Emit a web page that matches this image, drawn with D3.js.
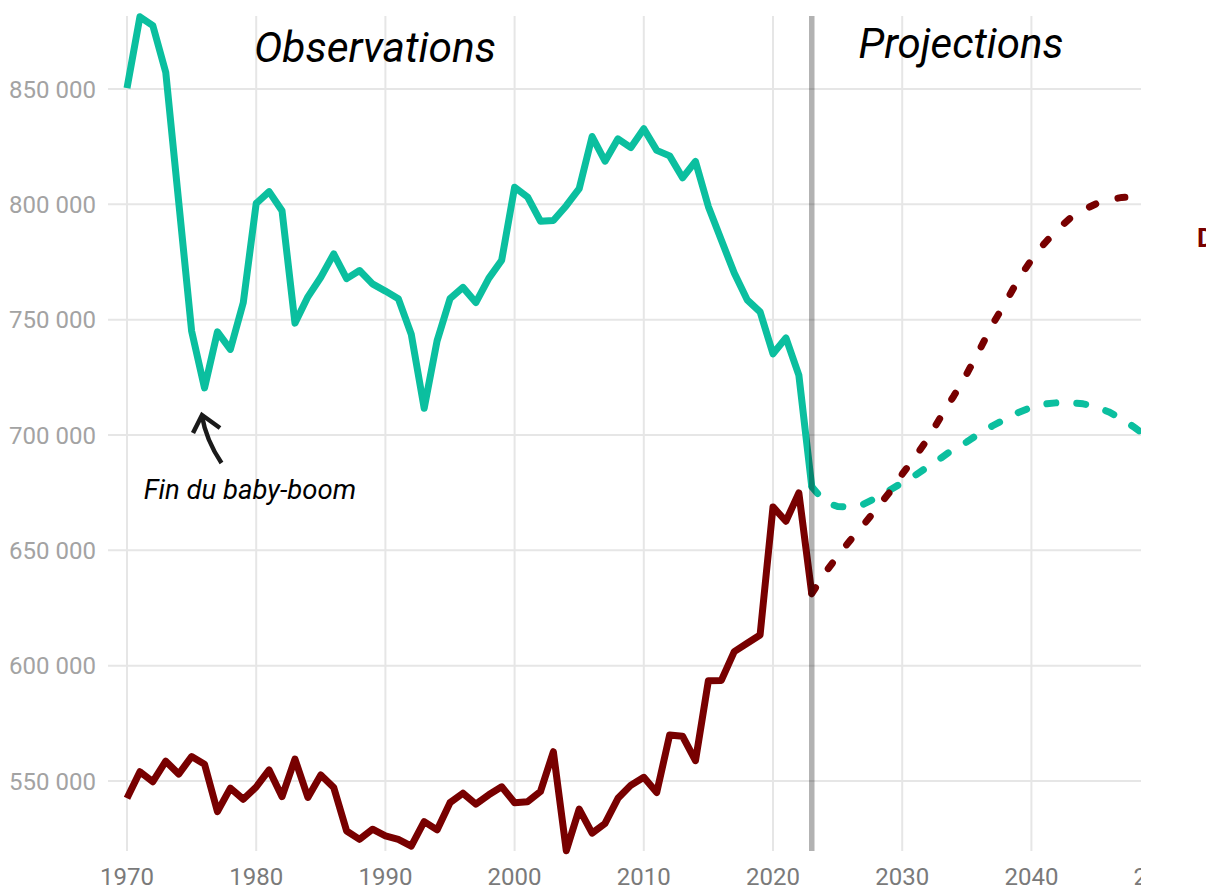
<!DOCTYPE html>
<html lang="fr">
<head>
<meta charset="utf-8">
<script src="https://d3js.org/d3.v7.min.js"></script>
<style>
  body { margin: 0; background: #fff; }
  svg { display: block; font-family: Roboto, "Noto Sans", sans-serif; }
</style>
</head>
<body>
<script>
// observed data
const years = d3.range(1970, 2024);
const births = [850400, 881300, 877500, 857200, 801200, 745100, 720400, 744700, 737100, 757400,
  800400, 805500, 797200, 748500, 759900, 768400, 778500, 767800, 771300, 765500,
  762400, 759100, 743700, 711600, 740800, 759100, 764000, 757400, 767900, 775800,
  807400, 803200, 792700, 793000, 799400, 806800, 829400, 818700, 828400, 824600,
  832800, 823400, 821000, 811500, 818600, 799000, 784500, 770200, 758600, 753400,
  735200, 742100, 726000, 677600];
const deaths = [542500, 554000, 549700, 558600, 553000, 560600, 557300, 536700, 546900, 542100,
  547400, 554800, 543200, 559500, 542900, 552600, 547200, 528300, 524700, 529100,
  526200, 524700, 521800, 532400, 528800, 540600, 544700, 540000, 544000, 547500,
  540600, 541000, 545400, 562700, 519800, 537800, 527400, 531600, 542500, 548200,
  551600, 545000, 569900, 569400, 558800, 593500, 593600, 606100, 609700, 613300,
  668800, 662600, 674900, 631200];

// projections
const projYears = d3.range(2023, 2051);
const projBirths = [677600, 671000, 669000, 668800, 670000, 672800, 676000, 679300, 682500, 686300,
  690000, 694000, 697000, 700800, 704000, 707000, 709800, 712000, 713400, 714000,
  714000, 713500, 712200, 710000, 707000, 703200, 699000, 694000];
const projDeaths = [631200, 640000, 647500, 654500, 661000, 668000, 675000, 683000, 690500, 698500,
  708000, 717000, 726500, 737000, 748000, 757500, 767500, 776000, 783000, 789000,
  794000, 797500, 800200, 802000, 803000, 803300, 803400, 803400];

const yTicks = [550000, 600000, 650000, 700000, 750000, 800000, 850000];
const xTicks = [1970, 1980, 1990, 2000, 2010, 2020, 2030, 2040, 2050];

const teal = "#0bbf9f", darkRed = "#780000";
const W = 1206, H = 889;
const panelTop = 16, panelBottom = 851, clipRight = 1141;

const x = d3.scaleLinear().domain([1970, 2050]).range([127, 1160.6]);
const y = d3.scaleLinear().domain([550000, 850000]).range([781, 89]);

const fmt = d3.formatLocale({decimal: ",", thousands: " ", grouping: [3], currency: ["", " €"]}).format(",");

const svg = d3.select("body").append("svg")
  .attr("width", W).attr("height", H);

svg.append("defs").append("clipPath").attr("id", "panel")
  .append("rect").attr("x", 0).attr("y", 0).attr("width", clipRight).attr("height", H);

const panel = svg.append("g").attr("clip-path", "url(#panel)");

// grid
panel.selectAll(".hgrid").data(yTicks).enter().append("line")
  .attr("x1", 108).attr("x2", clipRight)
  .attr("y1", d => y(d)).attr("y2", d => y(d))
  .attr("stroke", "#e6e6e6").attr("stroke-width", 2);
panel.selectAll(".vgrid").data(xTicks).enter().append("line")
  .attr("x1", d => x(d)).attr("x2", d => x(d))
  .attr("y1", panelTop).attr("y2", panelBottom)
  .attr("stroke", "#e6e6e6").attr("stroke-width", 2);

// tick labels
svg.selectAll(".ylab").data(yTicks).enter().append("text")
  .attr("x", 96).attr("y", d => y(d)).attr("dy", "0.36em")
  .attr("text-anchor", "end").attr("font-size", 24).attr("fill", "#a3a3a3")
  .text(d => fmt(d));
panel.selectAll(".xlab").data(xTicks).enter().append("text")
  .attr("x", d => x(d)).attr("y", 885)
  .attr("text-anchor", "middle").attr("font-size", 24).attr("fill", "#7a7a7a")
  .text(d => d);

// lines
const line = d3.line().x(d => x(d[0])).y(d => y(d[1]));
function drawLine(xs, ys, colour, dash) {
  panel.append("path")
    .datum(xs.map((d, i) => [d, ys[i]]))
    .attr("d", line)
    .attr("fill", "none")
    .attr("stroke", colour)
    .attr("stroke-width", 7)
    .attr("stroke-linejoin", "round")
    .attr("stroke-linecap", dash ? "round" : "butt")
    .attr("stroke-dasharray", dash);
}
drawLine(years, births, teal, null);
drawLine(years, deaths, darkRed, null);
drawLine(projYears, projBirths, teal, "9 21");
drawLine(projYears, projDeaths, darkRed, "7 23");

// separator between observed and projected
panel.append("line")
  .attr("x1", x(2023)).attr("x2", x(2023))
  .attr("y1", panelTop).attr("y2", panelBottom)
  .attr("stroke", "#000").attr("stroke-opacity", 0.3).attr("stroke-width", 5.5);

// headings
svg.append("text").attr("x", 375).attr("y", 62)
  .attr("text-anchor", "middle").attr("font-size", 42.5).attr("font-style", "italic")
  .text("Observations");
svg.append("text").attr("x", 961).attr("y", 58)
  .attr("text-anchor", "middle").attr("font-size", 42).attr("font-style", "italic")
  .text("Projections");

// annotation
svg.append("text").attr("x", 250).attr("y", 499)
  .attr("text-anchor", "middle").attr("font-size", 27.5).attr("font-style", "italic")
  .text("Fin du baby-boom");
svg.append("path")
  .attr("d", "M221.5,463 Q206,440 202,416")
  .attr("fill", "none").attr("stroke", "#1a1a1a").attr("stroke-width", 4.5);
svg.append("path")
  .attr("d", "M193,433 L202,415 L220,428")
  .attr("fill", "none").attr("stroke", "#1a1a1a").attr("stroke-width", 4.5);

// series label at the right edge (cut by the frame, as in the source)
svg.append("text").attr("x", 1197).attr("y", 247)
  .attr("font-size", 26).attr("font-weight", "bold").attr("fill", darkRed)
  .text("Décès");
</script>
</body>
</html>
